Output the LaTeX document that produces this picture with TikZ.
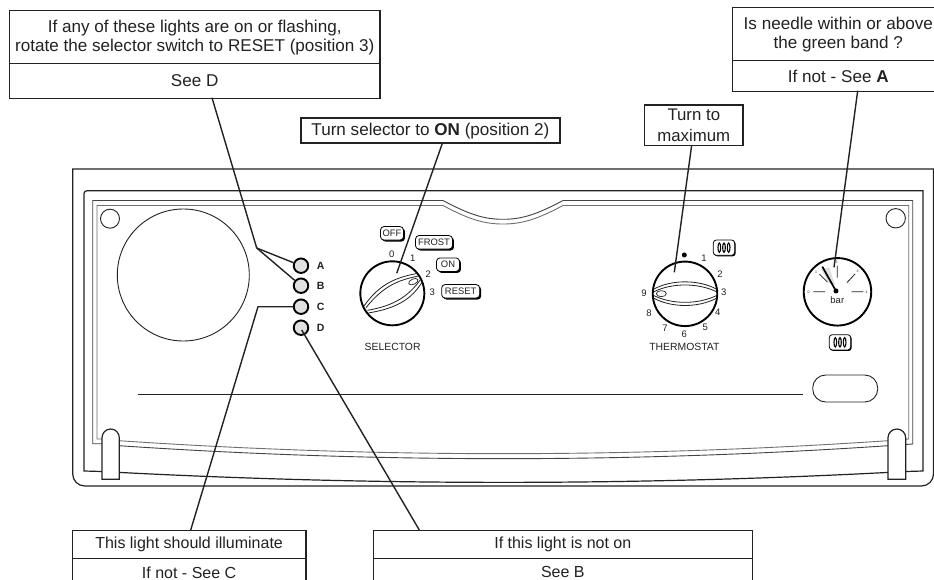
\documentclass[tikz,border=0pt]{standalone}
\usepackage{fontspec}
\setmainfont{Liberation Sans}
\usetikzlibrary{shadows}
\definecolor{ink}{HTML}{222222}
\tikzset{
 frameline/.style={draw=ink,line width=1.2pt},
 thinline/.style={draw=ink!85,line width=0.9pt},
 cell/.style={draw=ink,line width=1.2pt,fill=white,anchor=north west,inner sep=0pt,align=center,text=ink,font=\fontsize{16}{19}\selectfont},
 bigcell/.style={cell,font=\fontsize{17.1}{19}\selectfont},
 lead/.style={draw=ink,line width=1.4pt},
 led/.style={circle,draw=black,line width=1.9pt,fill=black!12,minimum size=14.5pt,inner sep=0pt},
 ledtag/.style={font=\fontsize{10.5}{12}\selectfont\bfseries,text=ink,inner sep=0pt},
 numtext/.style={font=\fontsize{9.5}{11}\selectfont,text=ink,inner sep=0pt},
 captext/.style={font=\fontsize{10.4}{12}\selectfont,text=ink,inner sep=0pt},
 btn/.style={draw=black,line width=0.8pt,fill=white,rounded corners=3.5pt,inner sep=0pt,minimum height=13.5pt,text=ink,font=\fontsize{9.4}{11}\selectfont,drop shadow={shadow xshift=1.5pt,shadow yshift=-1.5pt,fill=black,opacity=1}},
 tinytext/.style={font=\fontsize{3.5}{4}\selectfont,text=ink,inner sep=0pt},
 radicon/.pic={
  \draw[black,line width=0.8pt,fill=white,rounded corners=3pt,drop shadow={shadow xshift=1pt,shadow yshift=-1pt,fill=black,opacity=1}] (-32,-23) rectangle (32,23);
  \foreach \dx in {-14,0,14}{\draw[black,line width=1.1pt] (\dx,0) ellipse[x radius=4,y radius=14];}
 }
}
\begin{document}
\begin{tikzpicture}[x=1pt,y=-1pt]
\path[use as bounding box,clip] (0,0) rectangle (934,580);
\fill[white] (0,0) rectangle (934,580);
% housing
\draw[frameline] (72.7,169) -- (933.5,169) [rounded corners=12pt] -- (933.5,486) -- (72.7,486) [sharp corners] -- cycle;
\draw[frameline] (84,471) [rounded corners=3pt] -- (84,190.7) [sharp corners] -- (923,190.7) -- (923,471) -- (905.7,471.5) .. controls (637,486) and (370,486) .. (102,471.5) -- cycle;
\draw[thinline] (102,443.7) -- (92.7,443.7) -- (92.7,200.5) -- (443,200.5) .. controls (470,215) and (485,219.3) .. (503,219.3) .. controls (521,219.3) and (536,215) .. (563,200.5) -- (912.7,200.5) -- (912.7,444) -- (888,445.7) .. controls (632,463) and (375,463) .. (119,445.7);
\draw[thinline,draw=ink!65] (102,439) -- (97,439) -- (97,205.5) -- (443,205.5) .. controls (470,220) and (485,224) .. (503,224) .. controls (521,224) and (536,220) .. (563,205.5) -- (908.7,205.5) -- (908.7,439) -- (888,440.7) .. controls (632,458) and (375,458) .. (119,440.7);
% latches
\draw[frameline,fill=white] (102,479.3) -- (102,437.7) .. controls (102,432.9) and (105.9,429) .. (110.7,429) .. controls (115.5,429) and (119.3,432.9) .. (119.3,437.7) -- (119.3,479.3) -- cycle;
\draw[frameline,fill=white] (888,479.3) -- (888,437.7) .. controls (888,432.9) and (892,429) .. (896.8,429) .. controls (901.6,429) and (905.7,432.9) .. (905.7,437.7) -- (905.7,479.3) -- cycle;
% fittings
\node[circle,draw=ink,line width=0.9pt,minimum size=19pt,inner sep=0pt] (holeL) at (110,218.7) {};
\node[circle,draw=ink,line width=0.9pt,minimum size=19.4pt,inner sep=0pt] (holeR) at (895.7,218.3) {};
\node[circle,draw=ink,line width=0.9pt,minimum size=132pt,inner sep=0pt] (bigdisc) at (183.3,275) {};
\draw[draw=ink,line width=0.8pt] (137.7,394) -- (803,394);
\node[draw=ink,line width=0.9pt,rounded corners=13pt,minimum width=65pt,minimum height=27pt,inner sep=0pt] (pill) at (845.2,388.5) {};
% lights
\node[led] (ledA) at (301,265.7) {};
\node[led] (ledB) at (301,285.7) {};
\node[led] (ledC) at (301,306.7) {};
\node[led] (ledD) at (301,327.7) {};
\node[ledtag] (tagA) at (320.7,266) {A};
\node[ledtag] (tagB) at (320.7,286) {B};
\node[ledtag] (tagC) at (320.7,307) {C};
\node[ledtag] (tagD) at (320.7,328) {D};
% selector knob
\begin{scope}[shift={(280,200)},x=0.3333pt,y=-0.3333pt]
\node[circle,draw=black,line width=1.9pt,minimum size=64pt,inner sep=0pt,fill=white] (selknob) at (337,280) {};
\draw[ink,line width=0.8pt] (252,318) .. controls (300,250) and (350,232) .. (413,220);
\draw[ink,line width=0.8pt] (258,323) .. controls (310,258) and (355,240) .. (416,228);
\draw[ink,line width=0.8pt] (262,331) .. controls (340,318) and (385,290) .. (422,238);
\draw[ink,line width=0.8pt] (265,339) .. controls (350,325) and (395,298) .. (428,244);
\draw[ink,line width=0.7pt,rotate around={25:(400,245)}] (400,245) ellipse[x radius=15,y radius=8];
\node[numtext] (s0) at (335,163) {0};
\node[numtext] (s1) at (398,176) {1};
\node[numtext] (s2) at (445,223) {2};
\node[numtext] (s3) at (457,277) {3};
\node[captext] (selcap) at (338,441) {SELECTOR};
\node[btn,minimum width=23pt] (bOff) at (336,100) {OFF};
\node[btn,minimum width=37pt] (bFrost) at (462,127) {FROST};
\node[btn,minimum width=23pt] (bOn) at (504,194) {ON};
\node[btn,minimum width=38pt] (bReset) at (542,274) {RESET};
\end{scope}
% thermostat knob and gauge
\begin{scope}[shift={(620,210)},x=0.3333pt,y=-0.3333pt]
\node[circle,draw=black,line width=1.9pt,minimum size=64.5pt,inner sep=0pt,fill=white] (thermknob) at (195,251.5) {};
\draw[ink,line width=0.8pt] (100,238) .. controls (155,208) and (235,208) .. (291,238);
\draw[ink,line width=0.8pt] (100,246) .. controls (155,218) and (235,218) .. (291,246);
\draw[ink,line width=0.8pt] (100,256) .. controls (155,284) and (235,284) .. (291,256);
\draw[ink,line width=0.8pt] (100,264) .. controls (155,294) and (235,294) .. (291,264);
\draw[ink,line width=0.7pt] (124,251) ellipse[x radius=15,y radius=9];
\fill[black] (193,135) circle[radius=7.5];
\foreach \t/\a/\b in {1/252/146,2/300/193,3/311/247,4/293/308,5/256/352,6/193/373,7/135/355,8/87/310,9/72/250}{\node[numtext] (th\t) at (\a,\b) {\t};}
\node[captext] (thcap) at (193,410) {THERMOSTAT};
\pic at (312,113) {radicon};
\pic at (660,397) {radicon};
\node[circle,draw=black,line width=1.9pt,minimum size=67.5pt,inner sep=0pt,fill=white] (gauge) at (652.5,245.5) {};
\fill[black!12] (604,178) -- (628,172) -- (645,225) -- (625,218) -- cycle;
\draw[ink,line width=0.8pt] (580,245) -- (615,245) (695,245) -- (730,245) (598,192) -- (622,216) (705,192) -- (681,218) (652,167) -- (652,203);
\draw[black,line width=1.7pt] (648,243) -- (607,170);
\fill[black] (648,243) circle[radius=7.5];
\node[tinytext] (g0) at (566,246) {0};
\node[tinytext] (g1) at (588,187) {1};
\node[tinytext] (g2) at (650,156) {2};
\node[tinytext] (g3) at (713,184) {3};
\node[tinytext] (g4) at (740,246) {4};
\node[numtext] (gbar) at (652,269) {bar};
\end{scope}
% callout boxes
\node[bigcell,minimum width=370.3pt,minimum height=53.3pt] (tlA) at (9,10) {If any of these lights are on or flashing,\\rotate the selector switch to RESET (position 3)};
\node[bigcell,minimum width=370.3pt,minimum height=34.4pt] (tlB) at (9,63.3) {See D};
\node[bigcell,line width=1.8pt,minimum width=259pt,minimum height=25pt] (onbox) at (300,117.3) {Turn selector to \textbf{ON} (position 2)};
\node[bigcell,line width=1.3pt,minimum width=98.3pt,minimum height=40.7pt,font=\fontsize{16.8}{20.7}\selectfont] (maxbox) at (644,104.3) {Turn to\\maximum};
\node[bigcell,minimum width=212pt,minimum height=53pt] (trA) at (731.7,7) {Is needle within or above\\the green band ?};
\node[bigcell,minimum width=212pt,minimum height=30.7pt] (trB) at (731.7,60) {If not - See \textbf{A}};
\node[cell,minimum width=233.6pt,minimum height=27.7pt] (blA) at (71.7,530) {This light should illuminate};
\node[cell,minimum width=233.6pt,minimum height=28pt] (blB) at (71.7,557.7) {If not - See C};
\node[cell,minimum width=379pt,minimum height=27.7pt] (bcA) at (372.7,530) {If this light is not on};
\node[cell,minimum width=379pt,minimum height=28pt] (bcB) at (372.7,557.7) {See B};
% connectors
\coordinate (tlOut) at (212,97.7);
\coordinate (fork) at (256.7,248);
\coordinate (elbow) at (258,306.7);
\coordinate (blIn) at (190.7,530);
\coordinate (dTip) at (301.7,330);
\coordinate (bcIn) at (419.3,530);
\coordinate (onOut) at (442.7,142.3);
\coordinate (onTip) at (396.7,273.3);
\coordinate (maxOut) at (691.7,145);
\coordinate (maxTip) at (674.3,272.3);
\coordinate (trOut) at (857.7,90.7);
\coordinate (trTip) at (834,267.3);
\draw[lead] (tlOut) -- (fork);
\draw[lead] (fork) -- (ledA);
\draw[lead] (fork) -- (ledB);
\draw[lead] (ledC) -- (elbow) -- (blIn);
\draw[lead] (dTip) -- (bcIn);
\draw[lead] (onOut) -- (onTip);
\draw[lead] (maxOut) -- (maxTip);
\draw[lead] (trOut) -- (trTip);
\end{tikzpicture}
\end{document}
